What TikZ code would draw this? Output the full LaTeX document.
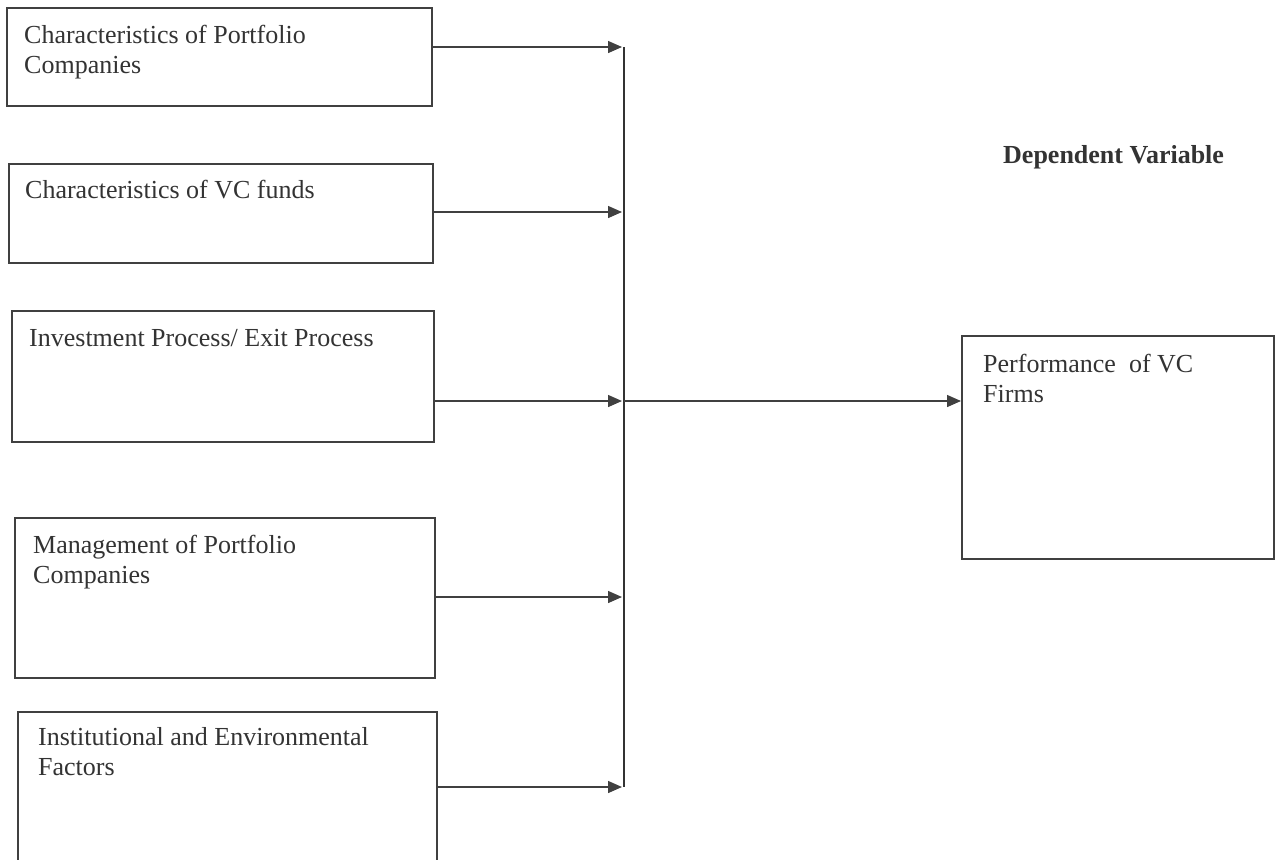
\documentclass[tikz,border=0pt]{standalone}
\usepackage{fontspec}
\setmainfont{Liberation Serif}
\usetikzlibrary{arrows.meta}
\begin{document}
\begin{tikzpicture}[x=1pt,y=-1pt,
  box/.style={draw=black!75, line width=1.6pt, rectangle, inner sep=0pt, anchor=north west},
  lbl/.style={anchor=base west, inner sep=0pt, align=left, text=black!80,
              font=\fontsize{26}{30}\selectfont},
  arr/.style={draw=black!75, line width=1.4pt, -{Triangle[length=14pt,width=12pt]}},
  bus/.style={draw=black!80, line width=1.5pt}]
\useasboundingbox (0,0) rectangle (1278,860);
\clip (0,0) rectangle (1278,860);
\fill[white] (0,0) rectangle (1278,860);

% input boxes
\node[box, minimum width=425pt, minimum height=98pt]  (b1) at (6,7) {};
\node[box, minimum width=424pt, minimum height=99pt]  (b2) at (8,163) {};
\node[box, minimum width=422pt, minimum height=131pt] (b3) at (11,310) {};
\node[box, minimum width=420pt, minimum height=160pt] (b4) at (14,517) {};
\node[box, minimum width=419pt, minimum height=175pt] (b5) at (17,711) {};
% output box
\node[box, minimum width=312pt, minimum height=223pt] (out) at (961,335) {};

% texts (multi-line nodes are placed by the baseline of their last line)
\node[lbl] (t1) at (24,73) {Characteristics of Portfolio\\Companies};
\node[lbl] (t2) at (25,198) {Characteristics of VC funds};
\node[lbl] (t3) at (29,346) {Investment Process/ Exit Process};
\node[lbl] (t4) at (33,583) {Management of Portfolio\\Companies};
\node[lbl] (t5) at (38,775) {Institutional and Environmental\\Factors};
\node[lbl] (t6) at (983,402) {Performance\ \ of VC\\Firms};
\node[lbl, font=\fontsize{26}{30}\selectfont\bfseries] (dv) at (1003,163) {Dependent Variable};

% junction points on the bus
\coordinate (j1) at (622,47);
\coordinate (j2) at (622,212);
\coordinate (j3) at (622,401);
\coordinate (j4) at (622,597);
\coordinate (j5) at (622,787);
\coordinate (vtop) at (624,47);
\coordinate (vbot) at (624,787);

\draw[arr] (b1.east |- j1) -- (j1);
\draw[arr] (b2.east |- j2) -- (j2);
\draw[arr] (b3.east |- j3) -- (j3);
\draw[arr] (b4.east |- j4) -- (j4);
\draw[arr] (b5.east |- j5) -- (j5);
\draw[bus] (vtop) -- (vbot);
\draw[arr] (vtop |- j3) -- (out.west |- j3);
\end{tikzpicture}
\end{document}
